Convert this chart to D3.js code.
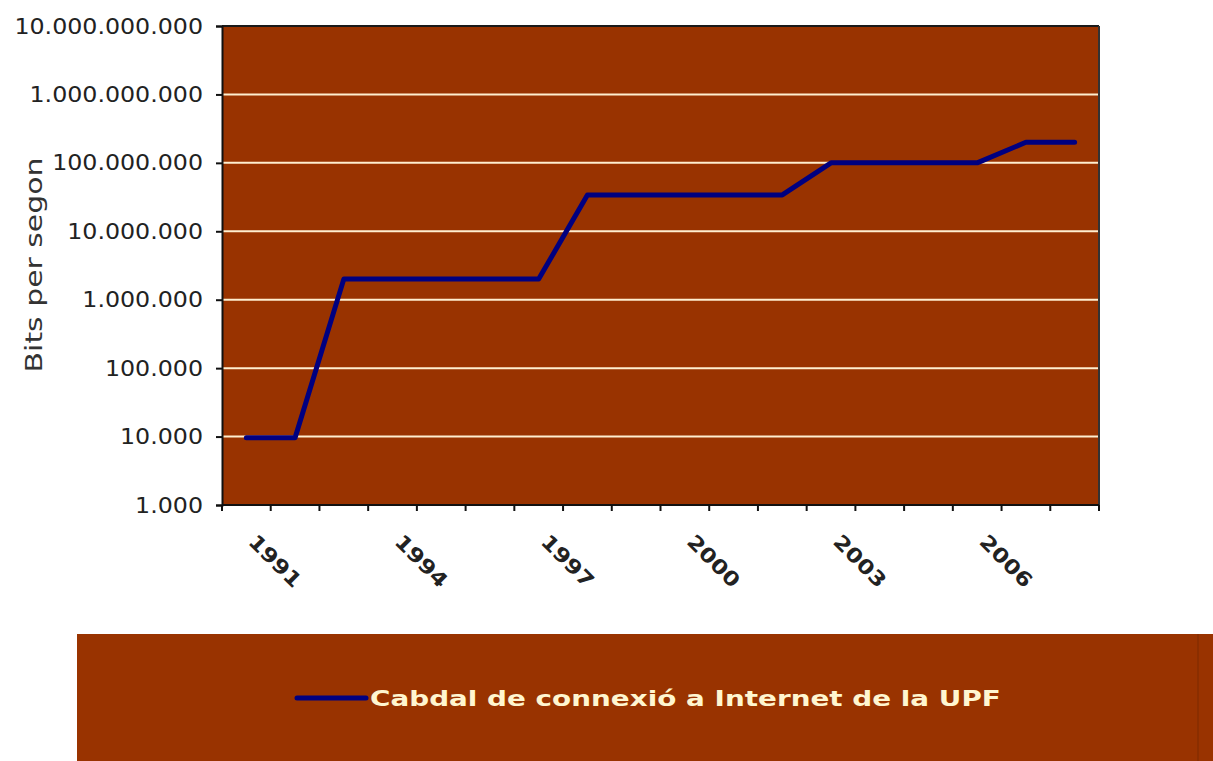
<!DOCTYPE html>
<html>
<head>
<meta charset="utf-8">
<script src="https://cdn.jsdelivr.net/npm/d3@7"></script>
<style>
  html, body { margin: 0; padding: 0; background: #ffffff; }
  svg { display: block; }
</style>
</head>
<body>
<svg id="chart" width="1213" height="761"></svg>
<script>
// ---- data ----
const years = [1991, 1992, 1993, 1994, 1995, 1996, 1997, 1998, 1999, 2000,
               2001, 2002, 2003, 2004, 2005, 2006, 2007, 2008];
const bandwidth = [9600, 9600, 2000000, 2000000, 2000000, 2000000, 2000000, 34000000, 34000000, 34000000,
                   34000000, 34000000, 100000000, 100000000, 100000000, 100000000, 200000000, 200000000];
const yTicks = [1e3, 1e4, 1e5, 1e6, 1e7, 1e8, 1e9, 1e10];
const xLabelYears = [1991, 1994, 1997, 2000, 2003, 2006];
const yTitle = "Bits per segon";
const seriesName = "Cabdal de connexió a Internet de la UPF";

// ---- layout ----
const svg = d3.select("#chart");
const plot = { left: 222, right: 1099, top: 26, bottom: 505 };
const colors = { bg: "#993300", grid: "#FFEFCF", line: "#000080", axis: "#111111", text: "#222222", legendText: "#FFF6D0" };

const x = d3.scaleBand().domain(years).range([plot.left, plot.right]).padding(0);
const y = d3.scaleLog().domain([1e3, 1e10]).range([plot.bottom, plot.top]);
const cx = d => x(d) + x.bandwidth() / 2;

const fmt = d3.formatLocale({ decimal: ",", thousands: ".", grouping: [3], currency: ["", ""] }).format(",");

// plot background
svg.append("rect")
  .attr("x", plot.left).attr("y", plot.top)
  .attr("width", plot.right - plot.left).attr("height", plot.bottom - plot.top)
  .attr("fill", colors.bg);

// gridlines
svg.append("g").selectAll("line")
  .data(yTicks.filter(t => t > 1e3 && t < 1e10))
  .join("line")
  .attr("x1", plot.left).attr("x2", plot.right)
  .attr("y1", d => y(d)).attr("y2", d => y(d))
  .attr("stroke", colors.grid).attr("stroke-width", 2);

// frame: top and right
svg.append("line").attr("x1", plot.left).attr("x2", plot.right)
  .attr("y1", plot.top).attr("y2", plot.top)
  .attr("stroke", "#1a1a1a").attr("stroke-width", 2);
svg.append("line").attr("x1", plot.right).attr("x2", plot.right)
  .attr("y1", plot.top).attr("y2", plot.bottom)
  .attr("stroke", "#333333").attr("stroke-width", 2);

// Y axis
const yAxis = svg.append("g").attr("transform", `translate(${plot.left},0)`)
  .call(d3.axisLeft(y).tickValues(yTicks).tickSize(6).tickFormat(""));
yAxis.select(".domain").attr("stroke", colors.axis).attr("stroke-width", 2);
yAxis.selectAll(".tick line").attr("stroke", colors.axis).attr("stroke-width", 2);

svg.append("g").selectAll("text")
  .data(yTicks)
  .join("text")
  .attr("transform", d => `translate(203,${y(d)}) scale(1.13,1)`)
  .attr("dy", "0.36em")
  .attr("text-anchor", "end")
  .attr("font-family", "DejaVu Sans, Verdana, sans-serif")
  .attr("font-size", 21)
  .attr("fill", colors.text)
  .text(d => fmt(d));

// X axis (ticks between categories)
const xBoundaries = years.map(d => x(d)).concat([plot.right]);
svg.append("line").attr("x1", plot.left).attr("x2", plot.right)
  .attr("y1", plot.bottom).attr("y2", plot.bottom)
  .attr("stroke", colors.axis).attr("stroke-width", 2);
svg.append("g").selectAll("line")
  .data(xBoundaries)
  .join("line")
  .attr("x1", d => d).attr("x2", d => d)
  .attr("y1", plot.bottom).attr("y2", plot.bottom + 6)
  .attr("stroke", colors.axis).attr("stroke-width", 2);

svg.append("g").selectAll("text")
  .data(xLabelYears)
  .join("text")
  .attr("transform", d => `translate(${cx(d) + 1},543) rotate(45) scale(1.17,1)`)
  .attr("text-anchor", "start")
  .attr("font-family", "DejaVu Sans, Verdana, sans-serif")
  .attr("font-weight", "bold")
  .attr("font-size", 20)
  .attr("fill", colors.text)
  .text(d => d);

// Y title
const title = svg.append("text")
  .attr("text-anchor", "middle")
  .attr("font-family", "DejaVu Sans, Verdana, sans-serif")
  .attr("font-size", 23)
  .attr("fill", "#333333")
  .text(yTitle);
{
  const w = title.node().getComputedTextLength();
  const k = 215 / w;
  title.attr("transform", `translate(42,265) rotate(-90) scale(${k},1)`);
}

// series line
const line = d3.line().x((d, i) => cx(years[i])).y(d => y(d));
svg.append("path")
  .datum(bandwidth)
  .attr("d", line)
  .attr("fill", "none")
  .attr("stroke", colors.line)
  .attr("stroke-width", 5)
  .attr("stroke-linejoin", "round")
  .attr("stroke-linecap", "round");

// legend
svg.append("rect")
  .attr("x", 77).attr("y", 634).attr("width", 1213 - 77).attr("height", 761 - 634)
  .attr("fill", colors.bg);
svg.append("line")
  .attr("x1", 1198).attr("x2", 1198).attr("y1", 634).attr("y2", 761)
  .attr("stroke", "#8a2e00").attr("stroke-width", 2);
svg.append("line")
  .attr("x1", 297).attr("x2", 366).attr("y1", 698).attr("y2", 698)
  .attr("stroke", colors.line).attr("stroke-width", 5).attr("stroke-linecap", "round");
const legendText = svg.append("text")
  .attr("font-family", "DejaVu Sans, Verdana, sans-serif")
  .attr("font-weight", "bold")
  .attr("font-size", 21)
  .attr("fill", colors.legendText)
  .text(seriesName);
{
  const w = legendText.node().getComputedTextLength();
  const k = 631 / w;
  legendText.attr("transform", `translate(370,706) scale(${k},1)`);
}
</script>
</body>
</html>
